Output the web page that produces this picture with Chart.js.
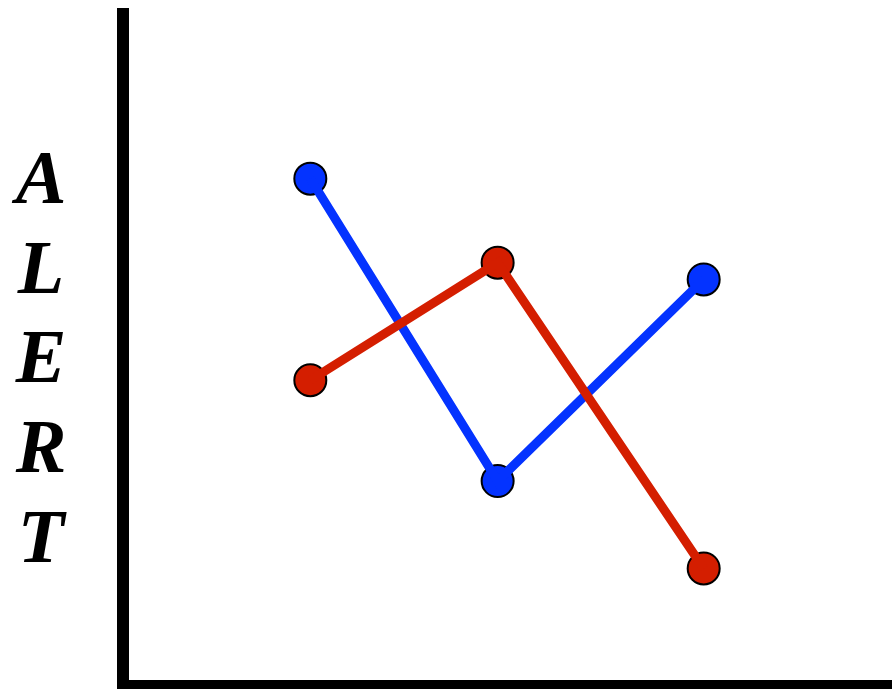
<!DOCTYPE html>
<html>
<head>
<meta charset="utf-8">
<script src="https://cdn.jsdelivr.net/npm/chart.js@4/dist/chart.umd.min.js"></script>
<style>
  html, body { margin: 0; padding: 0; background: #fff; }
  #wrap { width: 895px; height: 689px; position: relative; }
</style>
</head>
<body>
<div id="wrap"><canvas id="chart"></canvas></div>
<script>
// values (x in steps, y on a 0-10 scale)
const xValues = [1, 2, 3.1];
const blueValues = [7.55, 3.05, 6.05];
const redValues = [4.55, 6.3, 1.75];
const yLetters = ["A", "L", "E", "R", "T"];

const blue = "#0433ff";
const red = "#d41e00";

function toPoints(values) {
  return values.map((v, i) => ({ x: xValues[i], y: v }));
}

// stacked vertical axis label, one letter per line
const letterLabel = {
  id: "letterLabel",
  afterDraw(chart) {
    const ctx = chart.ctx;
    ctx.save();
    ctx.fillStyle = "#000";
    ctx.font = "italic bold 76px 'Liberation Serif', 'DejaVu Serif', serif";
    ctx.textAlign = "center";
    ctx.textBaseline = "alphabetic";
    yLetters.forEach((letter, i) => {
      ctx.fillText(letter, 41, 203 + i * 89.7);
    });
    ctx.restore();
  },
};

const markerStyle = {
  showLine: false,
  pointRadius: 16,
  pointHoverRadius: 16,
  pointBorderWidth: 2,
  pointBorderColor: "#000",
};

const lineStyle = {
  showLine: true,
  borderWidth: 9,
  pointRadius: 0,
  pointHoverRadius: 0,
};

new Chart(document.getElementById("chart").getContext("2d"), {
  type: "scatter",
  data: {
    datasets: [
      { ...markerStyle, label: "blue points", data: toPoints(blueValues), pointBackgroundColor: blue, order: 4 },
      { ...markerStyle, label: "red points", data: toPoints(redValues), pointBackgroundColor: red, order: 3 },
      { ...lineStyle, label: "blue", data: toPoints(blueValues), borderColor: blue, order: 2 },
      { ...lineStyle, label: "red", data: toPoints(redValues), borderColor: red, order: 1 },
    ],
  },
  options: {
    responsive: true,
    maintainAspectRatio: false,
    animation: false,
    layout: { autoPadding: false, padding: { left: 123, top: 14, right: 4, bottom: 3 } },
    plugins: {
      legend: { display: false },
      tooltip: { enabled: false },
    },
    scales: {
      x: {
        type: "linear",
        min: 0,
        max: 4.1,
        grid: { display: false, drawTicks: false },
        ticks: { display: false },
        border: { display: true, color: "#000", width: 12 },
      },
      y: {
        min: 0,
        max: 10,
        grid: { display: false, drawTicks: false },
        ticks: { display: false },
        border: { display: true, color: "#000", width: 12 },
      },
    },
  },
  plugins: [letterLabel],
});
</script>
</body>
</html>
